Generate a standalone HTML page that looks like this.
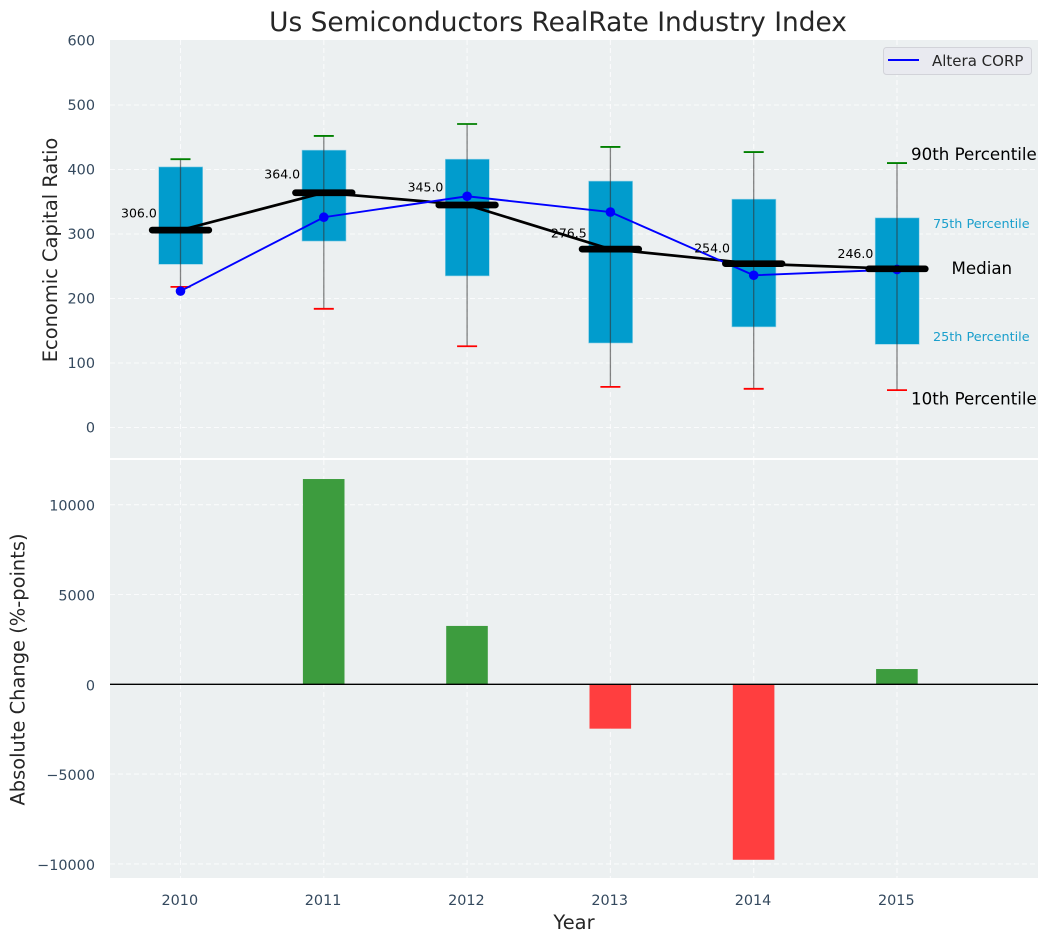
<!DOCTYPE html>
<html lang="en">
<head>
<meta charset="utf-8">
<title>Us Semiconductors RealRate Industry Index</title>
<style>
html,body{margin:0;padding:0;background:#fff;}
svg{display:block;font-family:"DejaVu Sans","Liberation Sans",sans-serif;}
</style>
</head>
<body>
<svg id="chart" xmlns="http://www.w3.org/2000/svg" width="1048" height="942" viewBox="0 0 1048 942"></svg>
<script>
const years = [2010, 2011, 2012, 2013, 2014, 2015];
const p90 = [416, 452, 470.5, 435, 427, 410];
const p75 = [404, 430, 416, 382, 354, 325];
const medians = [306, 364, 345, 276.5, 254, 246];
const p25 = [253, 289, 235, 131, 156, 129];
const p10 = [218, 184, 126, 63, 60, 58];
const alteraValues = [211.5, 326, 358.5, 334, 236, 245];
const changeValues = [0, 11430, 3250, -2470, -9770, 850];
const topTicks = [0, 100, 200, 300, 400, 500, 600];
const bottomTicks = [-10000, -5000, 0, 5000, 10000];

const svgNS = 'http://www.w3.org/2000/svg';
const svg = document.getElementById('chart');
const PLOT_LEFT = 110, PLOT_RIGHT = 1038;
const xScale = v => 180.5 + (v - 2010) * 143.3;
const yTop = v => 427.5 - v * 0.645;
const yBottom = v => 684.3 - v * 0.01796;

function make(tag, attrs) {
  const el = document.createElementNS(svgNS, tag);
  for (const k in attrs) el.setAttribute(k, attrs[k]);
  svg.appendChild(el);
  return el;
}
function fmtTick(v) {
  return v < 0 ? '\u2212' + Math.abs(v) : String(v);
}

// Panel backgrounds
const topPanel = make('rect', {x: PLOT_LEFT, y: 40, width: PLOT_RIGHT - PLOT_LEFT, height: 418, fill: '#ecf0f1'});


const bottomPanel = make('rect', {x: PLOT_LEFT, y: 460, width: PLOT_RIGHT - PLOT_LEFT, height: 418, fill: '#ecf0f1'});



const gridStyle = {stroke: '#ffffff', 'stroke-width': 1.1, 'stroke-dasharray': '5 3', 'stroke-opacity': 0.75};

// Vertical grid lines and x tick labels
years.forEach(y => {
  const gx = xScale(y);
  const g1 = make('line', {x1: gx, x2: gx, y1: 40, y2: 458, ...gridStyle});
  
  
  const g2 = make('line', {x1: gx, x2: gx, y1: 460, y2: 878, ...gridStyle});
  
  
  const t = make('text', {x: gx - 0.7, y: 905, 'text-anchor': 'middle', 'font-size': 14.4, fill: '#34495e'});
  t.textContent = y;
  
  
});

// Horizontal grid lines and y tick labels
topTicks.forEach(v => {
  if (v < 600) {
    const g = make('line', {x1: PLOT_LEFT, x2: PLOT_RIGHT, y1: yTop(v), y2: yTop(v), ...gridStyle});
    
    
  }
  const t = make('text', {x: 95, y: yTop(v) + 5.2, 'text-anchor': 'end', 'font-size': 14.4, fill: '#34495e'});
  t.textContent = fmtTick(v);
  
  
});
bottomTicks.forEach(v => {
  const g = make('line', {x1: PLOT_LEFT, x2: PLOT_RIGHT, y1: yBottom(v), y2: yBottom(v), ...gridStyle});
  
  
  const t = make('text', {x: 95, y: yBottom(v) + 6, 'text-anchor': 'end', 'font-size': 14.4, fill: '#34495e'});
  t.textContent = fmtTick(v);
  
  
});

// Boxes
years.forEach((y, i) => {
  const top = yTop(p75[i]), bot = yTop(p25[i]);
  const box = make('rect', {x: xScale(y) - 21.8, y: top, width: 44, height: bot - top, fill: '#019ccd', stroke: '#8fd0e6', 'stroke-width': 0.6});
  
  
});

// Whiskers with caps
years.forEach((y, i) => {
  const cx = xScale(y);
  const whisker = make('line', {x1: cx, x2: cx, y1: yTop(p90[i]), y2: yTop(p10[i]), stroke: '#333333', 'stroke-opacity': 0.6, 'stroke-width': 1.3});
  
  
  const capHi = make('line', {x1: cx - 10, x2: cx + 10, y1: yTop(p90[i]), y2: yTop(p90[i]), stroke: '#008000', 'stroke-width': 1.8});
  
  
  const capLo = make('line', {x1: cx - 10, x2: cx + 10, y1: yTop(p10[i]), y2: yTop(p10[i]), stroke: '#ff0000', 'stroke-width': 1.8});
  
  
});

// Median connecting line
const medianLine = make('polyline', {points: years.map((y, i) => xScale(y) + ',' + yTop(medians[i])).join(' '), fill: 'none', stroke: '#000000', 'stroke-width': 2.7});



// Altera series
const alteraLine = make('polyline', {points: years.map((y, i) => xScale(y) + ',' + yTop(alteraValues[i])).join(' '), fill: 'none', stroke: '#0000ff', 'stroke-width': 1.9});


years.forEach((y, i) => {
  const dot = make('circle', {cx: xScale(y), cy: yTop(alteraValues[i]), r: 4.8, fill: '#0000ff'});
  
  
});

// Thick median bars and value labels
years.forEach((y, i) => {
  const cx = xScale(y), my = yTop(medians[i]);
  const bar = make('line', {x1: cx - 28.3, x2: cx + 28.3, y1: my, y2: my, stroke: '#000000', 'stroke-width': 6.7, 'stroke-linecap': 'round'});
  
  
  const t = make('text', {x: cx - 23.7, y: my - (4.1 + 0.0273 * medians[i]), 'text-anchor': 'end', 'font-size': 12.5, fill: '#000000'});
  t.textContent = medians[i].toFixed(1);
  
  
});

// Change bars
years.forEach((y, i) => {
  const v = changeValues[i];
  if (v === 0) return;
  const y0 = yBottom(0), y1 = yBottom(v);
  const bar = make('rect', {x: xScale(y) - 20.9, y: Math.min(y0, y1), width: 41.6, height: Math.abs(y1 - y0), fill: v >= 0 ? '#3d9c3e' : '#ff3e3f'});
  
  
});
const zeroLine = make('line', {x1: PLOT_LEFT, x2: PLOT_RIGHT, y1: yBottom(0), y2: yBottom(0), stroke: '#000000', 'stroke-width': 1.3});


</script>
<script>
(function(){
  const s = document.getElementById('chart');
  s.insertAdjacentHTML('beforeend',
    '<text x="558" y="31" text-anchor="middle" font-size="26.4" fill="#262626">Us Semiconductors RealRate Industry Index</text>' +
    '<text transform="translate(57,250) rotate(-90)" text-anchor="middle" font-size="19.44" fill="#262626">Economic Capital Ratio</text>' +
    '<text transform="translate(24.5,669.5) rotate(-90)" text-anchor="middle" font-size="19.44" fill="#262626">Absolute Change (%-points)</text>' +
    '<text x="574" y="929" text-anchor="middle" font-size="19.44" fill="#262626">Year</text>' +
    '<g>' +
      '<rect x="883.5" y="47.5" width="148" height="27" rx="3" fill="#e9eaf0" stroke="#d2d3d9" stroke-width="1"/>' +
      '<line x1="888" x2="919" y1="60" y2="60" stroke="#0000ff" stroke-width="2"/>' +
      '<text x="932" y="66" font-size="15" fill="#262626">Altera CORP</text>' +
    '</g>' +
    '<text x="911" y="160" font-size="16.67" fill="#000">90th Percentile</text>' +
    '<text x="933" y="228" font-size="12.8" fill="#1a9fcc">75th Percentile</text>' +
    '<text x="951.5" y="274" font-size="16.67" fill="#000">Median</text>' +
    '<text x="933" y="341" font-size="12.8" fill="#1a9fcc">25th Percentile</text>' +
    '<text x="911" y="404.5" font-size="16.67" fill="#000">10th Percentile</text>'
  );
})();
</script>
</body>
</html>
